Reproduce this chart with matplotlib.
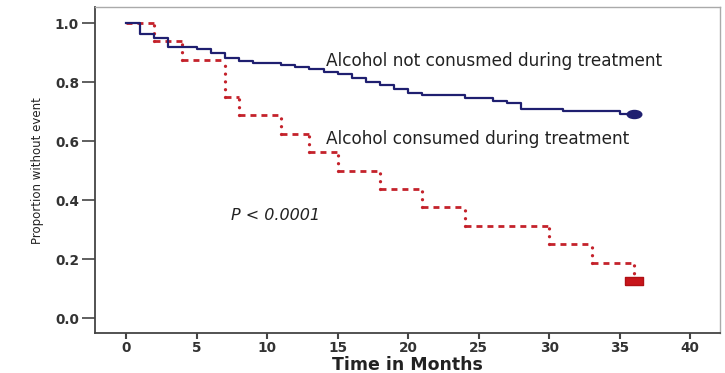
import matplotlib
matplotlib.use("Agg")
import matplotlib.pyplot as plt
from matplotlib.path import Path
import numpy as np

# Data: Kaplan-Meier step curves
blue_times = [0, 1, 2, 3, 5, 6, 7, 8, 9, 11, 12, 13, 14, 15, 16, 17, 18, 19, 20, 21, 24, 26, 27, 28, 31, 35, 36]
blue_surv = [1.0, 0.963, 0.948, 0.92, 0.912, 0.897, 0.882, 0.871, 0.865, 0.858, 0.852, 0.844, 0.835,
             0.826, 0.814, 0.801, 0.79, 0.776, 0.764, 0.756, 0.745, 0.737, 0.728, 0.708, 0.702, 0.692, 0.692]
red_times = [0, 2, 4, 7, 8, 11, 13, 15, 18, 21, 24, 30, 33, 36]
red_surv = [1.0, 0.9375, 0.875, 0.75, 0.6875, 0.625, 0.5625, 0.5, 0.4375, 0.375, 0.3125, 0.25, 0.1875, 0.125]

x_ticks = [0, 5, 10, 15, 20, 25, 30, 35, 40]
y_ticks = [0.0, 0.2, 0.4, 0.6, 0.8, 1.0]
y_ticklabels = ["0.0", "0.2", "0.4", "0.6", "0.8", "1.0"]

label_blue = "Alcohol not conusmed during treatment"
label_red = "Alcohol consumed during treatment"
p_text = "P < 0.0001"

BLUE = "#1f1f70"
RED = "#c4222b"

plt.rcParams['lines.scale_dashes'] = False

fig = plt.figure(figsize=(7.25, 3.73), dpi=100)
fig.patch.set_facecolor("white")
ax = fig.add_axes([0.131, 0.107, 0.862, 0.874])

# red curve: dashed horizontals, dotted verticals
rt = np.array(red_times); rs = np.array(red_surv)
ax.hlines(rs[:-1], rt[:-1], rt[1:], colors=RED, linewidth=2.0,
          linestyles=[(0, (4.3, 3.6))], zorder=2)
ax.vlines(rt[1:], rs[1:], rs[:-1], colors=RED, linewidth=2.4,
          linestyles=[(0, (0.01, 5.6))], capstyle='round', zorder=2)

# blue curve: solid step
ax.step(blue_times, blue_surv, where='post', color=BLUE, linewidth=1.6, zorder=3)

# censor markers at the end
ell = Path.unit_circle().vertices * np.array([1.0, 0.55])
ax.plot([blue_times[-1]], [blue_surv[-1]], linestyle='none',
        marker=Path(ell, Path.unit_circle().codes), markersize=10.5,
        color=BLUE, zorder=4)
rect = [(-1, -0.48), (1, -0.48), (1, 0.48), (-1, 0.48), (-1, -0.48)]
ax.plot([red_times[-1]], [red_surv[-1]], linestyle='none',
        marker=rect, markersize=12.5, color="#c8151b",
        markeredgecolor="#b01015", zorder=4)

ax.text(14.2, 0.871, label_blue, fontsize=12.2, color="#222222",
        family="DejaVu Sans", va='center', ha='left')
ax.text(14.2, 0.606, label_red, fontsize=12.2, color="#222222",
        family="DejaVu Sans", va='center', ha='left')
ax.text(7.45, 0.349, p_text, fontsize=11.5, style='italic', color="#222222",
        family="DejaVu Sans", va='center', ha='left')

ax.set_xlim(-2.2, 42.1)
ax.set_ylim(-0.051, 1.054)
ax.set_xticks(x_ticks)
ax.set_xticklabels([str(v) for v in x_ticks])
ax.set_yticks(y_ticks)
ax.set_yticklabels(y_ticklabels)

for lab in ax.get_xticklabels() + ax.get_yticklabels():
    lab.set_fontfamily("DejaVu Sans")
    lab.set_fontweight("bold")
    lab.set_fontsize(9.8)
    lab.set_color("#333333")

ax.tick_params(axis='y', direction='out', length=9.5, width=1.2, color="#444444", pad=2)
ax.tick_params(axis='x', direction='out', length=4.5, width=1.5, color="#444444", pad=1.5)

ax.set_xlabel("Time in Months", fontsize=12.5, fontweight='bold',
              family="DejaVu Sans", color="#222222", labelpad=0.5)
ax.set_ylabel("Proportion without event", fontsize=8.5,
              family=["Liberation Sans Narrow", "DejaVu Sans"], color="#222222", labelpad=8)

for side in ['left', 'bottom']:
    ax.spines[side].set_color("#444444")
    ax.spines[side].set_linewidth(1.3)
for side in ['top', 'right']:
    ax.spines[side].set_color("#aaaaaa")
    ax.spines[side].set_linewidth(1.0)

fig.savefig("out.png", dpi=100)
